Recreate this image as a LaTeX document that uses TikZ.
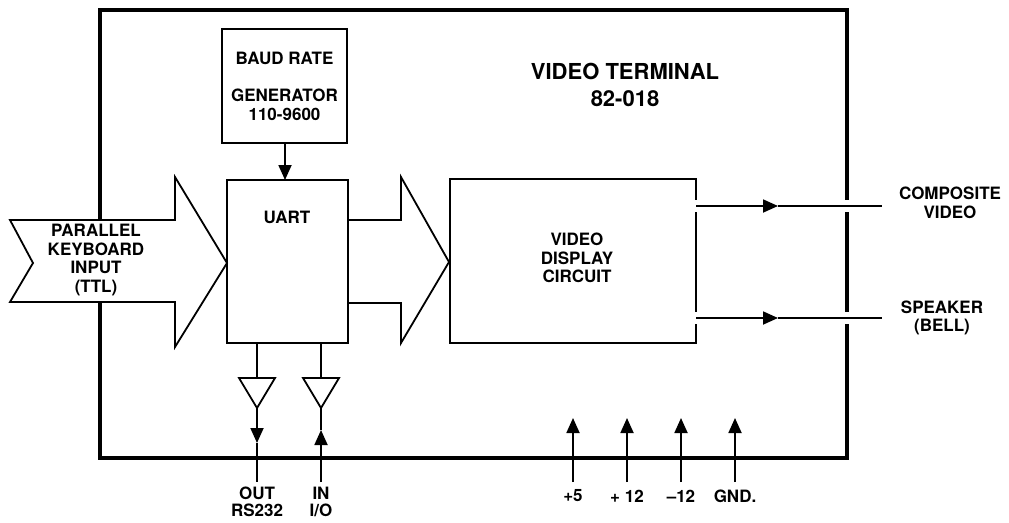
\documentclass[tikz,border=0pt]{standalone}
\usepackage{fontspec}
\setmainfont{TeX Gyre Heros}
\usetikzlibrary{arrows.meta}
\begin{document}
\begin{tikzpicture}[x=1pt,y=-1pt,
  lbl/.style={font=\fontsize{17}{18.5}\selectfont\bfseries, align=center, inner sep=0pt},
  ttl/.style={font=\fontsize{22}{27}\selectfont\bfseries, align=center, inner sep=0pt},
  blk/.style={draw, line width=1.8pt, inner sep=0pt},
  wire/.style={line width=1.8pt},
  tipped/.style={wire, -{Triangle[length=15pt,width=13pt]}},
  frm/.style={line width=3.2pt},
  gap/.style={draw=white, line width=12pt},
]
\useasboundingbox (0,0) rectangle (1009,522);

% outer frame
\draw[frm] (100,10) rectangle (847,458);

% title
\node[ttl] (title) at (625,85) {VIDEO TERMINAL\\82-018};

% baud rate generator
\node[blk, minimum width=125pt, minimum height=114pt, lbl] (baud) at (284.5,86)
  {BAUD RATE\\[19pt]GENERATOR\\110-9600};

% UART
\node[blk, minimum width=121pt, minimum height=163pt] (uart) at (287.5,261.5) {};
\node[lbl] (uartlbl) at (287,217) {UART};

% video display circuit
\node[blk, minimum width=246pt, minimum height=164pt] (vdc) at (573,261) {};
\node[lbl] (vdclbl) at (577,258) {VIDEO\\DISPLAY\\CIRCUIT};

% baud -> uart
\coordinate (bt) at (285,143);
\coordinate (bu) at (285,180);
\draw[tipped] (bt) -- (bu);

% parallel keyboard input arrow
\draw[fill=white, line width=1.8pt, line join=miter]
  (10,220) -- (175,220) -- (175,177) -- (227,263) -- (175,347) -- (175,302)
  -- (10,302) -- (33,263) -- cycle;
\node[lbl] (kbd) at (96,260) {PARALLEL\\KEYBOARD\\INPUT\\(TTL)};

% uart -> video display arrow
\draw[line width=1.8pt, line join=miter]
  (348,220) -- (401,220) -- (401,177) -- (449,262) -- (401,343) -- (401,303) -- (348,303);

% outputs
\coordinate (c1) at (690,206); \coordinate (c2) at (778,206); \coordinate (c3) at (882,206);
\coordinate (s1) at (690,318); \coordinate (s2) at (778,318); \coordinate (s3) at (882,318);
\draw[gap] (c1) -- ([xshift=-4pt]c3);
\draw[gap] (s1) -- ([xshift=-4pt]s3);
\draw[tipped] (696,206) -- (c2);
\draw[wire] (c2) -- (c3);
\draw[tipped] (696,318) -- (s2);
\draw[wire] (s2) -- (s3);
\node[lbl] (comp) at (950,203) {COMPOSITE\\VIDEO};
\node[lbl] (spk) at (942,318) {SPEAKER\\(BELL)};

% RS232 buffers
\coordinate (ou) at (257,343); \coordinate (ot) at (257,378);
\coordinate (oa) at (257,408); \coordinate (oh) at (257,443); \coordinate (oe) at (257,482);
\coordinate (iu) at (321,343); \coordinate (it) at (321,378);
\coordinate (ia) at (321,408); \coordinate (ih) at (321,430); \coordinate (ie) at (321,482);
\draw[wire] (ou) -- (ot);
\draw[wire, line join=miter] (239,378) -- (275,378) -- (oa) -- cycle;
\draw[tipped] (oa) -- (oh);
\draw[wire] (oh) -- (oe);
\draw[wire] (iu) -- (it);
\draw[wire, line join=miter] (303,378) -- (339,378) -- (ia) -- cycle;
\draw[tipped] (ie) -- (ih);
\draw[wire] (ih) -- (ia);
\node[lbl, font=\fontsize{17}{17}\selectfont\bfseries] (outlbl) at (257,502) {OUT\\RS232};
\node[lbl, font=\fontsize{17}{17}\selectfont\bfseries] (inlbl) at (321,502) {IN\\I/O};

% power inputs
\foreach \px/\nm/\tx in {573/p5/{+5}, 627/p12/{+ 12}, 681/m12/{--12}, 735/gnd/{GND.}} {
  \coordinate (\nm b) at (\px,482);
  \coordinate (\nm t) at (\px,418);
  \draw[tipped] (\nm b) -- (\nm t);
  \node[lbl] (\nm l) at (\px,496) {\tx};
}
\end{tikzpicture}
\end{document}
